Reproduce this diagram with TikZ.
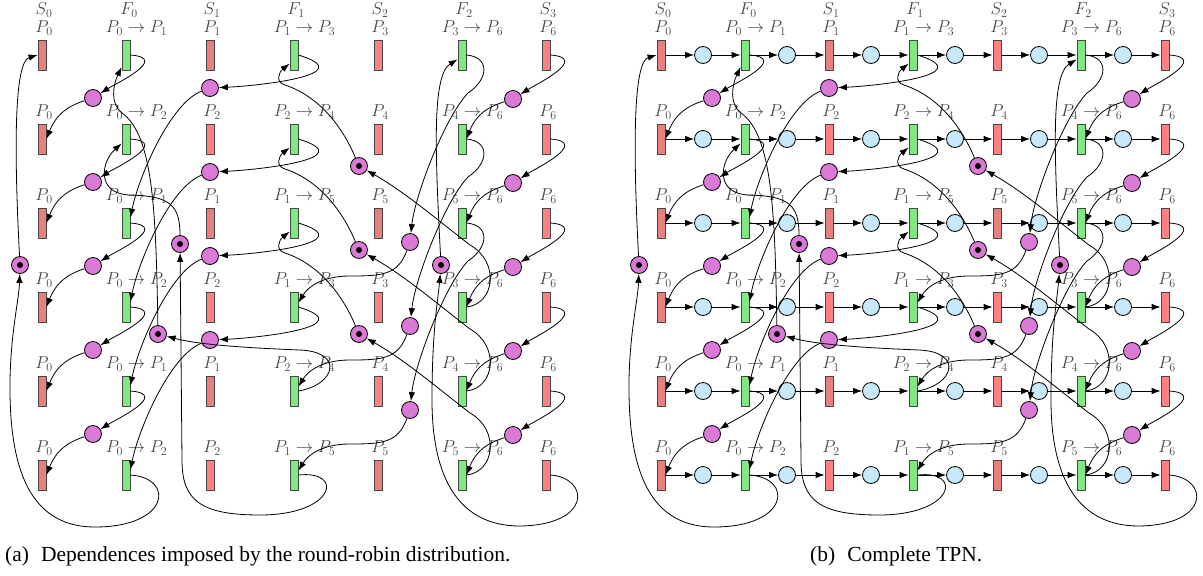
\documentclass[tikz,border=0pt]{standalone}
\usepackage{fontspec}
\usetikzlibrary{arrows.meta}
\newfontfamily\capfont{Liberation Serif}
\definecolor{sdark}{RGB}{232,128,128}
\definecolor{slight}{RGB}{255,128,128}
\definecolor{fgreen}{RGB}{128,232,128}
\definecolor{pplace}{RGB}{218,122,214}
\definecolor{bplace}{RGB}{200,232,252}
\definecolor{outl}{RGB}{70,70,70}
\definecolor{labc}{RGB}{70,70,70}
\tikzset{
  bar/.style={rectangle, draw=outl, line width=0.8pt, minimum width=8pt, minimum height=30pt, inner sep=0pt},
  sbar/.style={bar, fill=#1},
  fbar/.style={bar, fill=fgreen},
  pp/.style={circle, draw=black, fill=pplace, line width=0.8pt, minimum size=17pt, inner sep=0pt},
  bp/.style={circle, draw=black, fill=bplace, line width=0.8pt, minimum size=17pt, inner sep=0pt},
  tok/.style={pp, path picture={\fill[black] (path picture bounding box.center) circle (3pt);}},
  lab/.style={text=labc, inner sep=0pt, font=\fontsize{17.8}{20}\selectfont, anchor=base},
  arr/.style={-{Latex[length=9pt,width=6.5pt]}, line width=0.8pt},
  capt/.style={inner sep=0pt, font=\capfont\fontsize{21.5}{24}\selectfont},
}
\newcommand\drawpanel[2]{%
  \node[lab] (#1-h0) at (44,-14.5) {$S_0$};
  \node[lab] (#1-h1) at (129,-14.5) {$F_0$};
  \node[lab] (#1-h2) at (212,-14.5) {$S_1$};
  \node[lab] (#1-h3) at (296,-14.5) {$F_1$};
  \node[lab] (#1-h4) at (380,-14.5) {$S_2$};
  \node[lab] (#1-h5) at (464,-14.5) {$F_2$};
  \node[lab] (#1-h6) at (548,-14.5) {$S_3$};
  \foreach \rw/\lfa/\lsx/\lfb/\lsc/\lfc/\colb/\colc in {
    0/{P_0\to P_1}/{P_1}/{P_1\to P_3}/{P_3}/{P_3\to P_6}/sdark/slight,
    1/{P_0\to P_2}/{P_2}/{P_2\to P_4}/{P_4}/{P_4\to P_6}/slight/slight,
    2/{P_0\to P_1}/{P_1}/{P_1\to P_5}/{P_5}/{P_5\to P_6}/sdark/sdark,
    3/{P_0\to P_2}/{P_2}/{P_1\to P_3}/{P_3}/{P_3\to P_6}/slight/slight,
    4/{P_0\to P_1}/{P_1}/{P_2\to P_4}/{P_4}/{P_4\to P_6}/sdark/slight,
    5/{P_0\to P_2}/{P_2}/{P_1\to P_5}/{P_5}/{P_5\to P_6}/slight/sdark}{%
    \pgfmathsetmacro\y{-(55+84*\rw)}
    \node[sbar=sdark] (#1-0-\rw) at (42,\y) {};
    \node[fbar] (#1-1-\rw) at (126,\y) {};
    \node[sbar=\colb] (#1-2-\rw) at (210,\y) {};
    \node[fbar] (#1-3-\rw) at (294,\y) {};
    \node[sbar=\colc] (#1-4-\rw) at (378,\y) {};
    \node[fbar] (#1-5-\rw) at (462,\y) {};
    \node[sbar=slight] (#1-6-\rw) at (546,\y) {};
    \node[lab] (#1-l0-\rw) at (44,\y+22.5) {$P_0$};
    \node[lab] (#1-l1-\rw) at (136.5,\y+22.5) {$\lfa$};
    \node[lab] (#1-l2-\rw) at (212,\y+22.5) {$\lsx$};
    \node[lab] (#1-l3-\rw) at (304.5,\y+22.5) {$\lfb$};
    \node[lab] (#1-l4-\rw) at (380,\y+22.5) {$\lsc$};
    \node[lab] (#1-l5-\rw) at (472.5,\y+22.5) {$\lfc$};
    \node[lab] (#1-l6-\rw) at (548,\y+22.5) {$P_6$};
    \ifnum#2=1
      \foreach \ci in {0,...,5}{%
        \pgfmathtruncatemacro\cn{\ci+1}
        \node[bp] (#1-bl-\ci-\rw) at (84+84*\ci,\y) {};
        \draw[arr] (#1-\ci-\rw) -- (#1-bl-\ci-\rw);
        \draw[arr] (#1-bl-\ci-\rw) -- (#1-\cn-\rw);
      }
    \fi
  }
  % P0 and P6 chains
  \foreach \rw in {0,...,4}{%
    \pgfmathsetmacro\y{-(55+84*\rw)}
    \pgfmathtruncatemacro\rown{\rw+1}
    \node[pp] (#1-q0-\rw) at (93,\y-43) {};
    \draw[arr] (#1-1-\rw.east) .. controls +(40,-3) and +(22,14) .. (#1-q0-\rw);
    \draw[arr] (#1-q0-\rw) .. controls +(-25,-8) and +(10,25) .. (#1-0-\rown.east);
    \node[pp] (#1-q3-\rw) at (513,\y-44) {};
    \draw[arr] (#1-6-\rw.east) .. controls +(40,-3) and +(22,14) .. (#1-q3-\rw);
    \draw[arr] (#1-q3-\rw) .. controls +(-25,-8) and +(10,25) .. (#1-5-\rown.east);
  }
  % P0 loop
  \node[tok] (#1-t0) at (20,-265) {};
  \draw[arr] (#1-1-5.east) .. controls (175,-478) and (170,-527) .. (95,-527)
     .. controls (25,-527) and (9,-460) .. (10,-380)
     .. controls (11,-330) and (19,-300) .. (#1-t0);
  \draw[arr] (#1-t0) .. controls (14,-150) and (14,-62) .. (#1-0-0.west);
  % P1/P2 chain
  \foreach \rw in {0,...,3}{%
    \pgfmathsetmacro\y{-(55+84*\rw)}
    \pgfmathtruncatemacro\rowt{\rw+2}
    \node[pp] (#1-q1-\rw) at (210,\y-33) {};
    \draw[arr] (#1-3-\rw.east) .. controls +(65,-20) and +(45,2) .. (#1-q1-\rw);
    \draw[arr] (#1-q1-\rw) .. controls +(-40,-15) and +(8,40) .. (#1-1-\rowt.50);
  }
  \node[tok] (#1-t1a) at (158,-334) {};
  \node[tok] (#1-t1b) at (180,-244) {};
  \draw[arr] (#1-3-4.east) .. controls (335,-385) and (345,-352) .. (300,-350)
     .. controls (250,-348) and (200,-345) .. (#1-t1a);
  \draw[arr] (#1-t1a) .. controls (156,-210) and (153,-135) .. (122,-113)
     .. controls (110,-104) and (113,-85) .. (#1-1-0.250);
  \draw[arr] (#1-3-5.east) .. controls (345,-470) and (335,-515) .. (260,-515)
     .. controls (200,-515) and (182,-500) .. (182,-460) -- (#1-t1b);
  \draw[arr] (#1-t1b) .. controls (180,-205) and (170,-196) .. (130,-195)
     .. controls (97,-194) and (100,-163) .. (#1-1-1.225);
  % P3/P4/P5 chain
  \foreach \rw in {0,1,2}{%
    \pgfmathsetmacro\y{-(55+84*\rw)}
    \pgfmathtruncatemacro\rowt{\rw+3}
    \node[pp] (#1-q2-\rw) at (410,\y-187) {};
    \draw[arr] (#1-5-\rw.east) .. controls (490,\y-2) and (489,\y-24) .. (468,\y-38)
       .. controls (445,\y-62) and (415,\y-140) .. (#1-q2-\rw);
    \draw[arr] (#1-q2-\rw) .. controls (398,\y-220) and (382,\y-221) .. (350,\y-221)
       .. controls (322,\y-221) and (308,\y-232) .. (#1-3-\rowt.45);
  }
  \foreach \rw in {3,4,5}{%
    \pgfmathsetmacro\y{-(55+84*\rw)}
    \pgfmathtruncatemacro\rowm{\rw-3}
    \pgfmathsetmacro\ym{-(55+84*\rowm)}
    \node[tok] (#1-t2-\rw) at (359,\y+141) {};
    \draw[arr] (#1-5-\rw.east) .. controls (495,\y+3) and (500,\y+45) .. (470,\y+62)
       .. controls (440,\y+85) and (405,\y+115) .. (#1-t2-\rw);
    \draw[arr] (#1-t2-\rw) .. controls (350,\ym-90) and (330,\ym-45) .. (285,\ym-30)
       .. controls (275,\ym-27) and (279,\ym-17) .. (#1-3-\rowm.243);
  }
  % P6 loop
  \node[tok] (#1-t3) at (441,-265) {};
  \draw[arr] (#1-6-5.east) .. controls (590,-478) and (592,-525) .. (520,-526)
     .. controls (460,-526) and (432,-480) .. (432,-400)
     .. controls (432,-330) and (438,-300) .. (#1-t3);
  \draw[arr] (#1-t3) .. controls (435,-150) and (432,-75) .. (#1-5-0.225);
}
\begin{document}
\begin{tikzpicture}[x=1pt,y=1pt]
\path[use as bounding box] (0,0) rectangle (1203,-576);
\drawpanel{a}{0}
\begin{scope}[xshift=619pt]
\drawpanel{b}{1}
\end{scope}
\node[capt, anchor=base west] (capa) at (5,-561) {(a)\hspace{12pt}Dependences imposed by the round-robin distribution.};
\node[capt, anchor=base west] (capb) at (810,-561) {(b)\hspace{12pt}Complete TPN.};
\end{tikzpicture}
\end{document}
